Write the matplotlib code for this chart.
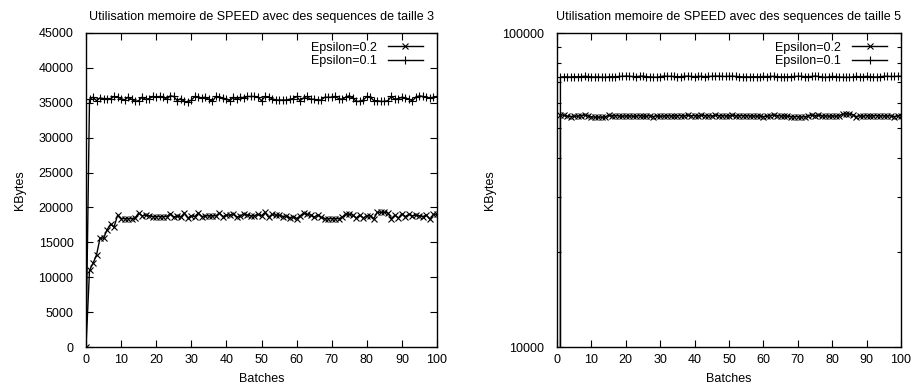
import numpy as np
import matplotlib
matplotlib.use('Agg')
import matplotlib.pyplot as plt
from matplotlib.ticker import MultipleLocator, LogLocator, FormatStrFormatter, NullFormatter

plt.rcParams['font.family'] = ['Liberation Sans', 'DejaVu Sans']
plt.rcParams['font.size'] = 9

batches = list(range(101))

# taille 3
t3_eps02 = [0, 11000, 12000, 13200, 15600, 15600, 16800, 17600, 17200, 18900,
            18400, 18400, 18400, 18400, 18500, 19200, 18800, 18900, 18800, 18700,
            18700, 18700, 18700, 18700, 19100, 18600, 18800, 18600, 19200, 18500,
            18800, 18700, 19200, 18700, 18800, 18800, 18800, 18800, 19200, 18700,
            18900, 18900, 19100, 18600, 18800, 19100, 18900, 18800, 18800, 19000,
            18800, 19300, 18600, 19000, 18900, 18900, 18700, 18800, 18500, 18700,
            18400, 18800, 19200, 19000, 18900, 18600, 18900, 18600, 18400, 18400,
            18400, 18400, 18400, 18600, 19100, 19000, 18900, 18500, 18900, 18500,
            18800, 18800, 18400, 19300, 19300, 19300, 19200, 18400, 18900, 18500,
            19100, 18700, 19000, 18800, 18900, 18800, 18700, 18900, 18300, 19000,
            19000]
t3_eps01 = [0, 35500, 35800, 35300, 35700, 35600, 35600, 35600, 35900, 35800,
            35600, 35400, 35800, 35500, 35200, 35300, 35800, 35500, 35600, 35900,
            35800, 35900, 35800, 35500, 36000, 35900, 35300, 35600, 35200, 35100,
            35400, 35900, 35800, 35700, 35800, 35500, 35200, 35900, 35800, 35700,
            35500, 35300, 35800, 35500, 35800, 35700, 35900, 35900, 35900, 35800,
            35300, 35900, 35800, 35600, 35400, 35400, 35400, 35400, 35500, 35600,
            35900, 35300, 35700, 35900, 35500, 35500, 35400, 35400, 35800, 35800,
            35800, 35900, 35600, 35500, 35800, 36000, 35700, 35200, 35200, 35400,
            35900, 35800, 35300, 35300, 35200, 35200, 35300, 35900, 35500, 35600,
            35800, 35700, 35500, 35300, 35800, 36000, 35900, 35800, 35700, 35800,
            35900]

# taille 5
t5_eps02 = [0, 54800, 54700, 54300, 54200, 54400, 54300, 54600, 54800, 54500,
            54100, 53900, 54000, 53900, 54000, 54700, 54500, 54600, 54400, 54300,
            54400, 54500, 54300, 54300, 54600, 54400, 54300, 54600, 54200, 54500,
            54300, 54400, 54600, 54400, 54500, 54500, 54600, 54400, 54700, 54500,
            54600, 54400, 54700, 54500, 54600, 54300, 54700, 54500, 54600, 54400,
            54500, 54700, 54400, 54600, 54500, 54600, 54400, 54500, 54300, 54500,
            54200, 54300, 54600, 54800, 54600, 54400, 54500, 54300, 54200, 54100,
            54200, 54000, 54100, 54500, 54800, 54600, 54700, 54400, 54500, 54300,
            54500, 54300, 54600, 55100, 55300, 55200, 54800, 54200, 54500, 54300,
            54600, 54400, 54500, 54600, 54400, 54500, 54400, 54500, 54200, 54400,
            54600]
t5_eps01 = [0, 72400, 72500, 72500, 72400, 72600, 72500, 72600, 72800, 72600,
            72500, 72400, 72500, 72400, 72300, 72500, 72600, 72500, 72700, 72800,
            72900, 72800, 72700, 72600, 72800, 72900, 72600, 72500, 72400, 72300,
            72600, 72900, 72800, 72800, 72700, 72500, 72600, 72800, 72900, 72700,
            72600, 72700, 72800, 72600, 72700, 72800, 72900, 72900, 72800, 72700,
            72800, 72900, 72700, 72600, 72500, 72500, 72500, 72600, 72500, 72500,
            72700, 72600, 72700, 72800, 72600, 72500, 72500, 72500, 72600, 72700,
            72800, 72800, 72600, 72600, 72700, 72900, 72700, 72400, 72300, 72400,
            72700, 72600, 72400, 72400, 72300, 72300, 72400, 72700, 72500, 72600,
            72700, 72600, 72500, 72400, 72600, 72800, 72800, 72700, 72700, 72800,
            72800]

fig = plt.figure(figsize=(9.13, 3.85), dpi=100)
ax1 = fig.add_axes([86 / 913, 38 / 385, 351 / 913, 314 / 385])
ax2 = fig.add_axes([557 / 913, 38 / 385, 344 / 913, 314 / 385])

for ax, s02, s01, num in [(ax1, t3_eps02, t3_eps01, 3), (ax2, t5_eps02, t5_eps01, 5)]:
    ax.plot(batches, s02, color='black', lw=1.0, marker='x', ms=5, mew=0.8, label='Epsilon=0.2')
    ax.plot(batches, s01, color='black', lw=1.0, marker='+', ms=5.5, mew=0.8, label='Epsilon=0.1')
    ax.set_xlim(0, 100)
    ax.xaxis.set_major_locator(MultipleLocator(10))
    ax.tick_params(which='both', direction='in', top=True, right=True, colors='black')
    ax.tick_params(which='major', length=5, width=0.8, pad=5)
    ax.tick_params(which='minor', length=3, width=0.8)
    ax.tick_params(axis='y', which='major', pad=9)
    for sp in ax.spines.values():
        sp.set_linewidth(1.0)
    ax.set_title('Utilisation memoire de SPEED avec des sequences de taille %d' % num,
                 fontsize=9, pad=9)
    ax.set_xlabel('Batches', labelpad=5)
    ax.legend(loc='upper right', frameon=False, markerfirst=False, handlelength=2.8,
              labelspacing=0.1, borderaxespad=0.3, handletextpad=0.9,
              bbox_to_anchor=(0.985, 1.0))

ax1.set_ylim(0, 45000)
ax1.yaxis.set_major_locator(MultipleLocator(5000))
ax1.set_ylabel('KBytes', labelpad=9)

ax2.set_yscale('log')
ax2.set_ylim(10000, 100000)
ax2.yaxis.set_major_locator(LogLocator(base=10))
ax2.yaxis.set_minor_locator(LogLocator(base=10, subs=np.arange(2, 10)))
ax2.yaxis.set_major_formatter(FormatStrFormatter('%d'))
ax2.yaxis.set_minor_formatter(NullFormatter())
ax2.set_ylabel('KBytes', labelpad=5)

fig.savefig('out.png', dpi=100)
